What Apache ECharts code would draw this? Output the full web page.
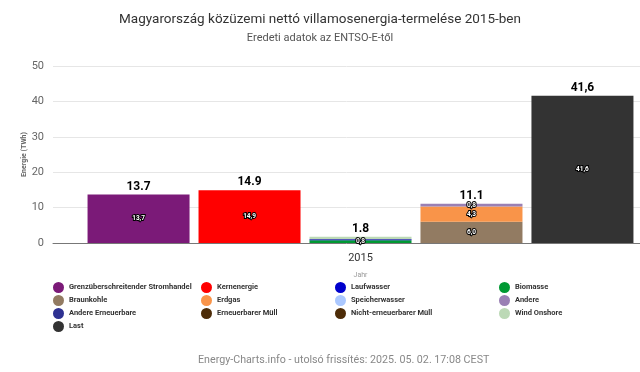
<!DOCTYPE html>
<html><head><meta charset="utf-8">
<script src="https://cdn.jsdelivr.net/npm/echarts@6/dist/echarts.min.js"></script>
<style>html,body{margin:0;padding:0;background:#fff}#c{width:640px;height:372px}</style>
</head><body><div id="c"></div>
<script>
// ---- data ----
const categories = ['2015'];
const stackIds = ['handel', 'kern', 'ee', 'fossil', 'last'];
const totalDecimalSep = ['.', '.', '.', '.', ','];

const grenzHandel = [13.7];
const kernenergie = [14.9];
const biomasse = [0.8];
const laufwasser = [0.2];
const andereErneuerbare = [0.1];
const speicherwasser = [0];
const erneuerbarerMuell = [0];
const windOnshore = [0.7];
const braunkohle = [6.0];
const erdgas = [4.3];
const nichtErneuerbarerMuell = [0];
const andere = [0.8];
const last = [41.6];

const yTicks = [0, 10, 20, 30, 40, 50];

// series definition: name, values, stack, colour  (stack order = bottom to top)
const seriesDefs = [
  ['Grenzüberschreitender Stromhandel', grenzHandel, 'handel', '#7b1a78'],
  ['Kernenergie', kernenergie, 'kern', '#ff0000'],
  ['Biomasse', biomasse, 'ee', '#009933'],
  ['Laufwasser', laufwasser, 'ee', '#0000cc'],
  ['Andere Erneuerbare', andereErneuerbare, 'ee', '#2e3192'],
  ['Speicherwasser', speicherwasser, 'ee', '#abc8ff'],
  ['Erneuerbarer Müll', erneuerbarerMuell, 'ee', '#4d2c08'],
  ['Wind Onshore', windOnshore, 'ee', '#bcd9b6'],
  ['Braunkohle', braunkohle, 'fossil', '#927b62'],
  ['Erdgas', erdgas, 'fossil', '#f99449'],
  ['Nicht-erneuerbarer Müll', nichtErneuerbarerMuell, 'fossil', '#4d2c08'],
  ['Andere', andere, 'fossil', '#9a80b4'],
  ['Last', last, 'last', '#333333']
];

const legendCols = [
  ['Grenzüberschreitender Stromhandel', 'Braunkohle', 'Andere Erneuerbare', 'Last'],
  ['Kernenergie', 'Erdgas', 'Erneuerbarer Müll'],
  ['Laufwasser', 'Speicherwasser', 'Nicht-erneuerbarer Müll'],
  ['Biomasse', 'Andere', 'Wind Onshore']
];
const legendLeft = [53, 201, 335, 499];

// ---- build ----
const barCommon = { barWidth: 102, barGap: '8.8%', xAxisIndex: 1, yAxisIndex: 1 };

const series = seriesDefs.map(([name, vals, stack, color]) => Object.assign({
  name, type: 'bar', stack, data: vals.slice(),
  itemStyle: { color },
  label: {
    show: true, position: 'inside',
    fontSize: 6.5, fontWeight: 'bold', fontFamily: 'Roboto',
    color: '#fff', textBorderColor: '#000', textBorderWidth: 2,
    formatter: p => (p.value >= 0.75 ? p.value.toFixed(1).replace('.', ',') : '')
  }
}, barCommon));

stackIds.forEach((sid, i) => {
  const total = seriesDefs.filter(d => d[2] === sid)
    .reduce((s, d) => s + d[1][0], 0);
  const txt = total.toFixed(1).replace('.', totalDecimalSep[i]);
  series.push(Object.assign({
    name: '_total_' + sid, type: 'bar', stack: sid, data: [0],
    itemStyle: { color: 'transparent' },
    label: {
      show: true, position: 'top', distance: 2,
      fontSize: 12, fontWeight: 'bold', color: '#000',
      fontFamily: 'Roboto',
      formatter: () => txt
    },
    silent: true
  }, barCommon));
});

const legends = legendCols.map((col, i) => ({
  orient: 'vertical', left: legendLeft[i], top: 282,
  padding: 0, itemGap: 2, itemWidth: 11, itemHeight: 11,
  icon: 'circle',
  textStyle: { fontSize: 7.5, fontWeight: 'bold', color: '#333', fontFamily: "'Liberation Sans Narrow', Roboto" },
  data: col
}));

const chart = echarts.init(document.getElementById('c'), null, { renderer: 'canvas' });
chart.setOption({
  animation: false,
  backgroundColor: '#fff',
  title: [
    {
      text: 'Magyarország közüzemi nettó villamosenergia-termelése 2015-ben',
      subtext: 'Eredeti adatok az ENTSO-E-től',
      left: 'center', top: 8, itemGap: 6,
      textStyle: { fontSize: 13.5, fontWeight: 'normal', color: '#333', fontFamily: 'Roboto' },
      subtextStyle: { fontSize: 11, color: '#555', fontFamily: 'Roboto' }
    },
    {
      text: 'Energy-Charts.info - utolsó frissítés: 2025. 05. 02. 17:08 CEST',
      left: 193, top: 350,
      textStyle: { fontSize: 10.7, fontWeight: 'normal', color: '#888', fontFamily: 'Roboto' }
    }
  ],
  legend: legends,
  grid: [
    { left: 53, right: 0, top: 66, bottom: 129 },
    { left: 81, right: 0, top: 66, bottom: 129 }
  ],
  xAxis: [
    {
      gridIndex: 0, type: 'category', data: [''],
      axisLine: { lineStyle: { color: '#777', width: 1 } },
      axisTick: { show: false }, axisLabel: { show: false }
    },
    {
      gridIndex: 1, type: 'category', data: categories,
      name: 'Jahr', nameLocation: 'middle', nameGap: 29,
      nameTextStyle: { fontSize: 7, color: '#999', fontFamily: 'Roboto' },
      axisLine: { show: false },
      axisTick: { show: false },
      axisLabel: { fontSize: 11, color: '#333', margin: 10, fontFamily: 'Roboto' }
    }
  ],
  yAxis: [
    {
      gridIndex: 0, type: 'value', min: yTicks[0], max: yTicks[yTicks.length - 1], interval: 10,
      name: 'Energie (TWh)', nameLocation: 'middle', nameGap: 25, nameRotate: 90,
      nameTextStyle: { fontSize: 7, fontWeight: 'bold', color: '#666', fontFamily: 'Roboto' },
      axisLine: { show: false }, axisTick: { show: false }, axisLabel: { show: false },
      splitLine: { lineStyle: { color: '#e6e6e6' } }
    },
    {
      gridIndex: 1, type: 'value', min: yTicks[0], max: yTicks[yTicks.length - 1], interval: 10,
      axisLine: { show: false }, axisTick: { show: false },
      axisLabel: { fontSize: 11, color: '#666', margin: 37, fontFamily: 'Roboto' },
      splitLine: { show: false }
    }
  ],
  series
});
</script>
</body></html>
